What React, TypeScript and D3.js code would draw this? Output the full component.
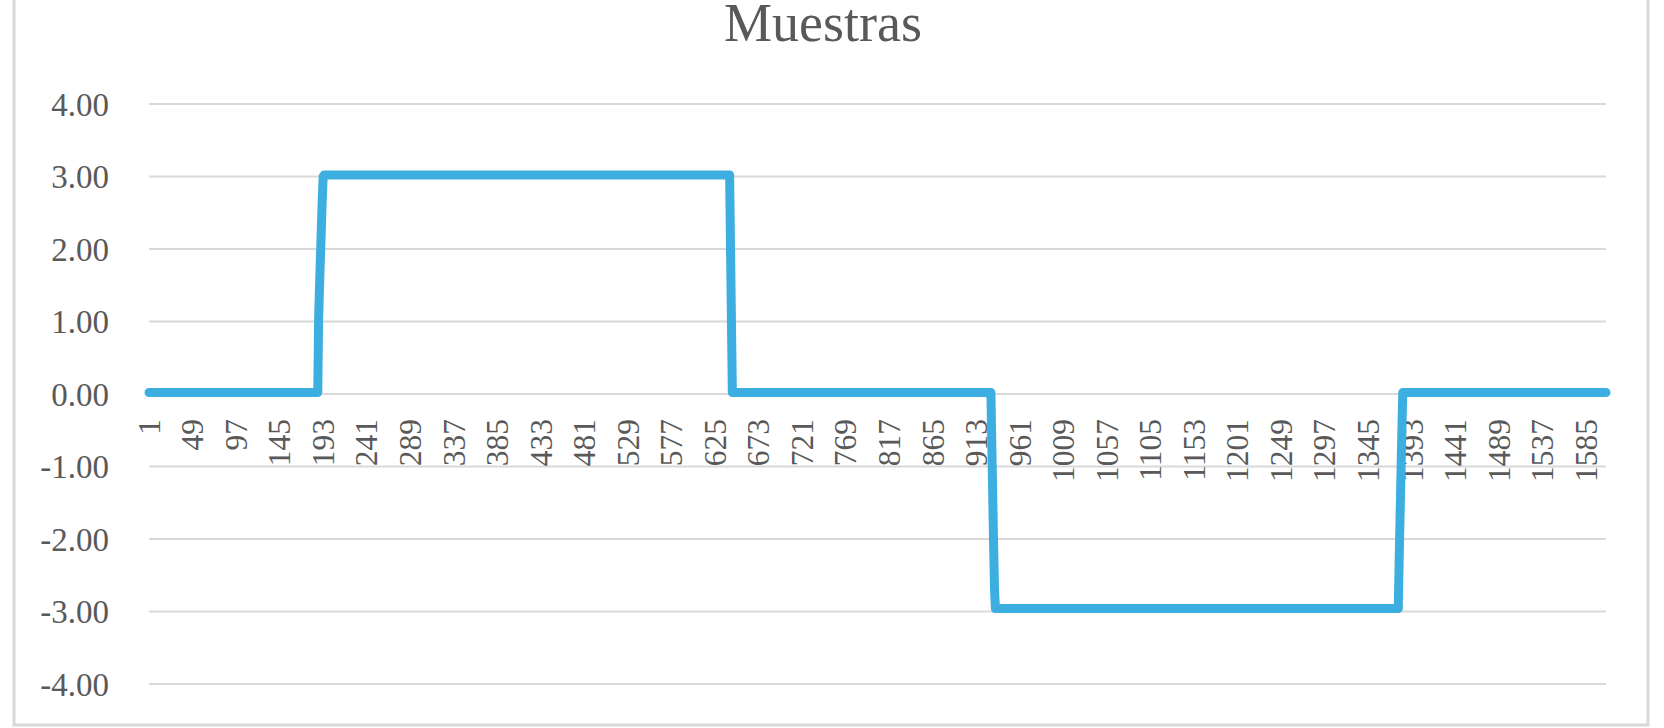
import React from "react";
import * as d3 from "d3";

// ---- data ----
const chartTitle = "Muestras";
const sampleCount = 1607;
// run-length description of the sampled signal: value holds from runStart[i] until the next start
const runStart = [1, 188, 189, 190, 191, 192, 193, 194, 642, 643, 644, 930, 931, 932, 933, 934, 1379, 1380, 1381, 1382, 1383];
const runValue = [0.02, 1.05, 1.5, 1.9, 2.3, 2.7, 3.0, 3.02, 2.0, 1.0, 0.02, -0.7, -1.4, -2.1, -2.7, -2.96, -2.3, -1.7, -1.1, -0.5, 0.02];
const xTickLabels = [1, 49, 97, 145, 193, 241, 289, 337, 385, 433, 481, 529, 577, 625, 673, 721, 769, 817, 865, 913, 961, 1009, 1057, 1105, 1153, 1201, 1249, 1297, 1345, 1393, 1441, 1489, 1537, 1585];
const yTicks = [4, 3, 2, 1, 0, -1, -2, -3, -4];

const W = 1664;
const H = 728;
const plot = { left: 149, right: 1606, top: 104, bottom: 684 };
const FONT = "'Liberation Serif', 'Times New Roman', serif";
const TEXT = "#595959";
const GRID = "#d9d9d9";
const LINE = "#3daee0";

type Pt = { s: number; v: number };

function buildSeries(): Pt[] {
  const pts: Pt[] = [];
  let k = 0;
  for (let s = 1; s <= sampleCount; s++) {
    while (k + 1 < runStart.length && runStart[k + 1] <= s) k++;
    pts.push({ s, v: runValue[k] });
  }
  return pts;
}

export default function App() {
  const series = buildSeries();
  const x = d3.scaleLinear().domain([1, sampleCount]).range([plot.left, plot.right]);
  const y = d3.scaleLinear().domain([-4, 4]).range([plot.bottom, plot.top]);
  const line = d3
    .line<Pt>()
    .x((d) => x(d.s))
    .y((d) => y(d.v));

  return (
    <svg
      width={W}
      height={H}
      viewBox={`0 0 ${W} ${H}`}
      style={{ position: "absolute", left: 0, top: 0, background: "#fff" }}
    >
      <rect x={0} y={0} width={W} height={H} fill="#fff" />
      {/* chart border */}
      <path d={`M14,-2 V725 H1648 V-2`} fill="none" stroke={GRID} strokeWidth={3} />
      {/* title */}
      <text x={823} y={41} textAnchor="middle" fontFamily={FONT} fontSize={54} fill={TEXT}>
        {chartTitle}
      </text>
      {/* gridlines */}
      {yTicks.map((t) => (
        <line
          key={"g" + t}
          x1={x(1)}
          x2={x(sampleCount)}
          y1={y(t)}
          y2={y(t)}
          stroke={GRID}
          strokeWidth={2}
        />
      ))}
      {/* y labels */}
      {yTicks.map((t) => (
        <text
          key={"yl" + t}
          x={109}
          y={y(t)}
          dy="0.35em"
          textAnchor="end"
          fontFamily={FONT}
          fontSize={33}
          fill={TEXT}
        >
          {t.toFixed(2)}
        </text>
      ))}
      {/* x labels */}
      {xTickLabels.map((c) => (
        <text
          key={"xl" + c}
          transform={`translate(${x(c)},419) rotate(-90)`}
          dy="0.34em"
          textAnchor="end"
          fontFamily={FONT}
          fontSize={31.5}
          fill={TEXT}
        >
          {c}
        </text>
      ))}
      {/* series */}
      <path
        d={line(series) || ""}
        fill="none"
        stroke={LINE}
        strokeWidth={9}
        strokeLinejoin="round"
        strokeLinecap="round"
      />
    </svg>
  );
}
